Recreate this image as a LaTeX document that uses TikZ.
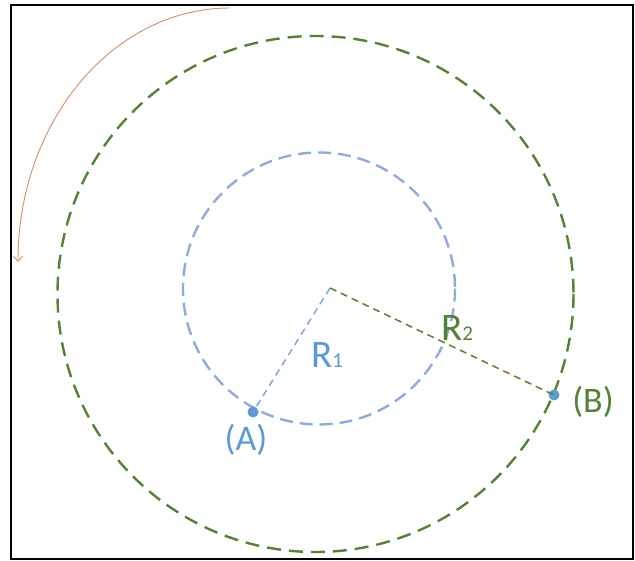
\documentclass[tikz,border=0pt]{standalone}
\usepackage{fontspec}
\setmainfont{Carlito}
\usepackage{xcolor}
\usepackage{tikz}
\usetikzlibrary{positioning,arrows.meta}
\definecolor{outergreen}{RGB}{84,130,53}
\definecolor{innerblue}{RGB}{143,170,220}
\definecolor{dotblue}{RGB}{91,155,213}
\definecolor{turnorange}{RGB}{214,140,100}
\tikzset{
    outer circle/.style={draw=outergreen, line width=2.4pt, dash pattern=on 14pt off 8pt},
    inner circle/.style={draw=innerblue, line width=2.4pt, dash pattern=on 13pt off 7pt},
    radius line/.style={line width=1.5pt, dash pattern=on 7pt off 5pt},
    point/.style={circle, fill=dotblue, inner sep=0pt, minimum size=11pt},
    label text/.style={font=\fontsize{36}{36}\selectfont, inner sep=0pt},
    radius text/.style={font=\fontsize{39}{39}\selectfont, inner sep=0pt}
}

\begin{document}
\begin{tikzpicture}[x=1pt, y=-1pt]
    \useasboundingbox (0,0) rectangle (635,561);
    % frame
    \draw[line width=1.6pt] (11,5) rectangle (633,559);

    % circles
    \draw[outer circle] (315.5,294) circle (258);
    \draw[inner circle] (319,288.5) circle (136);

    % points and centre
    \coordinate (o) at (330,288);
    \node[point] (a) at (253,412) {};
    \node[point] (b) at (554,395) {};

    % radii
    \draw[radius line, draw=innerblue!70!dotblue] (o) -- (a.center);
    \draw[radius line, draw=outergreen] (o) -- (b.center);

    % labels
    \node[radius text, text=dotblue] (r1) at (327,355) {R{\fontsize{21}{21}\selectfont 1}};
    \node[radius text, text=outergreen] (r2) at (457,328) {R{\fontsize{21}{21}\selectfont 2}};
    \node[label text, text=dotblue] (la) at (246,440) {(A)};
    \node[label text, text=outergreen] (lb) at (593,402) {(B)};

    % turning arrow
    \coordinate (s) at (230,8);
    \draw[turnorange, line width=0.9pt, -{Straight Barb[length=5pt, width=9pt]}]
        (s) arc[start angle=90, end angle=180, x radius=212, y radius=-254];
\end{tikzpicture}
\end{document}
